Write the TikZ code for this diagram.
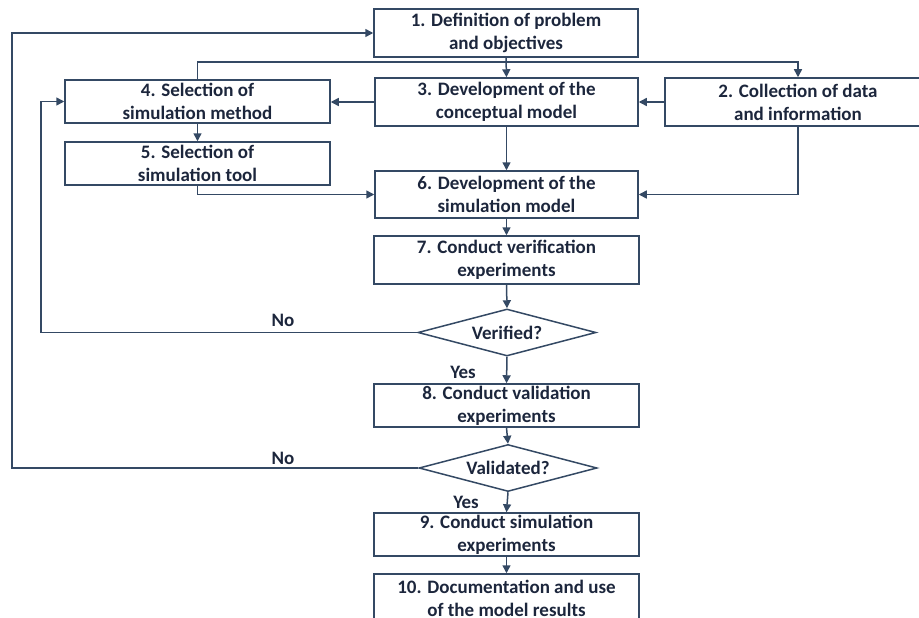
\documentclass[tikz,border=0pt]{standalone}
\usepackage{fontspec}
\setmainfont{Carlito}
\usetikzlibrary{shapes.geometric,arrows.meta}
\definecolor{lnc}{RGB}{52,73,100}
\definecolor{txc}{RGB}{28,38,60}
\begin{document}
\begin{tikzpicture}[x=1pt,y=-1pt,
  box/.style={draw=lnc,line width=1.5pt,rectangle,inner sep=0pt,align=center,
    font=\fontsize{19}{23}\selectfont\bfseries,text=txc},
  dia/.style={draw=lnc,line width=1.5pt,diamond,aspect=3.8,inner sep=0pt,
    minimum width=178,minimum height=47,font=\fontsize{19}{23}\selectfont\bfseries,text=txc},
  arr/.style={draw=lnc,line width=1.5pt,-{Triangle[length=8pt,width=8pt]}},
  plain/.style={draw=lnc,line width=1.5pt},
  lbl/.style={font=\fontsize{19}{23}\selectfont\bfseries,text=txc,inner sep=0pt}]
\useasboundingbox (0,0) rectangle (919,618);
\clip (0,0) rectangle (919,618);
\node[box,minimum width=264,minimum height=48] (n1) at (506,33) {1. Definition of problem\\and objectives};
\node[box,minimum width=263,minimum height=48] (n3) at (506.5,102) {3. Development of the\\conceptual model};
\node[box,minimum width=266,minimum height=48] (n2) at (798,102) {2. Collection of data\\and information};
\node[box,minimum width=265,minimum height=43] (n4) at (197.5,101.5) {4. Selection of\\simulation method};
\node[box,minimum width=265,minimum height=43] (n5) at (197.5,163.5) {5. Selection of\\simulation tool};
\node[box,minimum width=263,minimum height=47] (n6) at (506.5,194.5) {6. Development of the\\simulation model};
\node[box,minimum width=265,minimum height=48] (n7) at (506.5,260) {7. Conduct verification\\experiments};
\node[dia] (d1) at (507,332.5) {Verified?};
\node[box,minimum width=265,minimum height=43] (n8) at (506.5,405.5) {8. Conduct validation\\experiments};
\node[dia] (d2) at (508,468) {Validated?};
\node[box,minimum width=265,minimum height=43] (n9) at (506.5,534.5) {9. Conduct simulation\\experiments};
\node[box,minimum width=265,minimum height=48] (n10) at (506.5,598) {10. Documentation and use\\of the model results};
\coordinate (j) at (506.5,62);
\coordinate (l1) at (41,332.5);
\coordinate (l2) at (12,468);
\draw[arr] (n1.south) -- (n3.north);
\draw[plain] (n4.north) |- (j);
\draw[arr] (j) -| (n2.north);
\draw[arr] (n2.west) -- (n3.east);
\draw[arr] (n3.west) -- (n4.east |- n3.west);
\draw[arr] (n4.south) -- (n5.north);
\draw[arr] (n5.south) |- (n6.west);
\draw[arr] (n3.south) -- (n6.north);
\draw[arr] (n2.south) |- (n6.east);
\draw[arr] (n6.south) -- (n7.north);
\draw[arr] (n7.south) -- (d1.north);
\draw[arr] (d1.south) -- (n8.north);
\draw[arr] (n8.south) -- (d2.north);
\draw[arr] (d2.south) -- (n9.north);
\draw[arr] (n9.south) -- (n10.north);
\draw[arr] (d1.west) -- (l1) |- (n4.west);
\draw[arr] (d2.west) -- (l2) |- (n1.west);
\node[lbl] (no1) at (283,320) {No};
\node[lbl] (no2) at (283,458) {No};
\node[lbl] (yes1) at (463,372) {Yes};
\node[lbl] (yes2) at (466,502) {Yes};
\end{tikzpicture}
\end{document}
